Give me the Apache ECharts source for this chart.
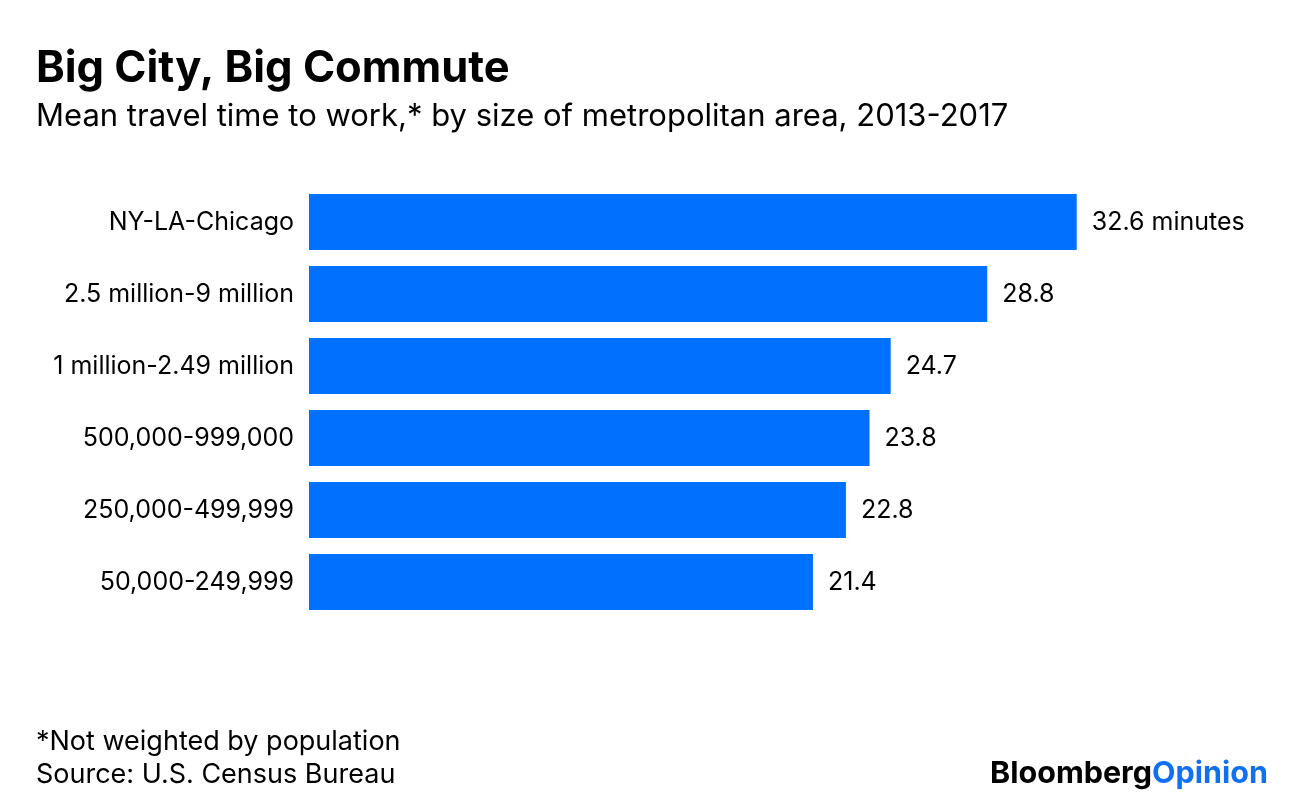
<!DOCTYPE html>
<html><head><meta charset="utf-8">
<script src="https://cdn.jsdelivr.net/npm/echarts@6/dist/echarts.min.js"></script>
<style>html,body{margin:0;padding:0;background:#fff}#c{width:1296px;height:806px}</style>
</head><body><div id="c"></div>
<script>
const categories = ['NY-LA-Chicago','2.5 million-9 million','1 million-2.49 million','500,000-999,000','250,000-499,999','50,000-249,999'];
const values = [32.6, 28.8, 24.7, 23.8, 22.8, 21.4];
const valueLabels = ['32.6 minutes','28.8','24.7','23.8','22.8','21.4'];
const FONT = 'Inter, "Liberation Sans", Arial, sans-serif';
const chart = echarts.init(document.getElementById('c'), null, {renderer:'canvas'});
chart.setOption({
  backgroundColor:'#fff',
  animation:false,
  title:[
    {text:'Big City, Big Commute', left:31, top:42, textStyle:{fontFamily:FONT, fontSize:43.5, fontWeight:'bold', color:'#000'}},
    {text:'Mean travel time to work,* by size of metropolitan area, 2013-2017', left:31, top:96, textStyle:{fontFamily:FONT, fontSize:31, fontWeight:'normal', color:'#000'}},
    {text:'*Not weighted by population', left:31, top:723, textStyle:{fontFamily:FONT, fontSize:27, fontWeight:'normal', color:'#000'}},
    {text:'Source: U.S. Census Bureau', left:31, top:756, textStyle:{fontFamily:FONT, fontSize:27, fontWeight:'normal', color:'#000'}}
  ],
  graphic:[{
    type:'text', right:28, top:758,
    style:{rich:{a:{fontFamily:FONT, fontSize:30.5, fontWeight:'bold', fill:'#000'}, b:{fontFamily:FONT, fontSize:30.5, fontWeight:'bold', fill:'#1070f0'}}, text:'{a|Bloomberg}{b|Opinion}'}
  }],
  grid:{left:309, top:186, width:942, height:432, containLabel:false},
  xAxis:{type:'value', min:0, max:40, show:false},
  yAxis:{type:'category', data:categories, inverse:true,
    axisLine:{show:false}, axisTick:{show:false},
    axisLabel:{fontFamily:FONT, fontSize:25, color:'#000', margin:15}},
  series:[{type:'bar', data:values, barWidth:56, itemStyle:{color:'#0070ff'},
    label:{show:true, position:'right', distance:15, fontFamily:FONT, fontSize:25, color:'#000',
      formatter:p=>valueLabels[p.dataIndex]}}]
});
</script></body></html>
